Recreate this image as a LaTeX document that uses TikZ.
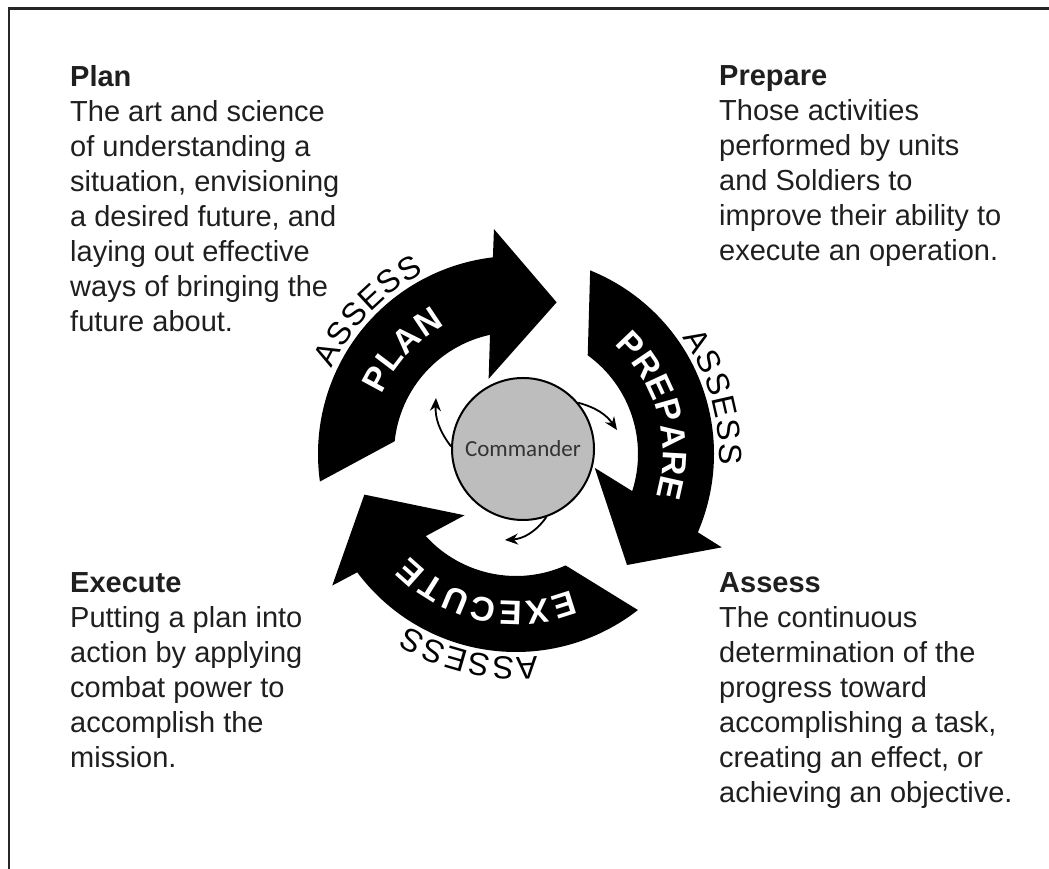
\documentclass[tikz,border=0pt]{standalone}
\usepackage{fontspec}
\setmainfont{Liberation Sans}
\newfontfamily\cmdfont{Carlito}
\usetikzlibrary{arrows.meta,decorations.text,positioning}
\newcommand\inlab{\fontsize{34}{34}\selectfont\bfseries}
\newcommand\outlab{\fontsize{32}{32}\selectfont}

\begin{document}
\begin{tikzpicture}[x=1pt,y=1pt,
  blurb/.style={anchor=north west,inner sep=0pt,align=left,text=black!88,
    font=\fontsize{29}{35}\selectfont},
  ringpart/.style={fill=black},
  turn/.style={-{Stealth[length=13pt,width=11pt]},line width=1.8pt},
  inlabel/.style={decorate,decoration={text along path,text={|\inlab|#1},
    text color=white,text align={fit to path}}},
  outlabel/.style={decorate,decoration={text along path,text={|\outlab|#1},
    text color=black,text align={fit to path}}}]
\useasboundingbox (0,0) rectangle (1049,869);

% frame, only top and left edge show
\draw[line width=3pt,black!85] (8,860.5) -- (1049,860.5);
\draw[line width=2.5pt,black!85] (9,862) -- (9,0);

% the four definitions
\node[blurb] (plan) at (70,804) {\textbf{Plan}\\The art and science\\of understanding a\\situation, envisioning\\a desired future, and\\laying out effective\\ways of bringing the\\future about.};
\node[blurb] (prepare) at (719,804) {\textbf{Prepare}\\Those activities\\performed by units\\and Soldiers to\\improve their ability to\\execute an operation.};
\node[blurb] (execute) at (70,297) {\textbf{Execute}\\Putting a plan into\\action by applying\\combat power to\\accomplish the\\mission.};
\node[blurb] (assess) at (719,297) {\textbf{Assess}\\The continuous\\determination of the\\progress toward\\accomplishing a task,\\creating an effect, or\\achieving an objective.};

% the ring of three arrows
\begin{scope}[shift={(516,415)}]
\fill[ringpart] (188:198) arc[start angle=188,end angle=96.7,radius=198] -- (95.6:226) -- (75:157) -- (110:80) -- (102.3:122) arc[start angle=102.3,end angle=174,radius=122] -- cycle;
\fill[ringpart] (68:198) arc[start angle=68,end angle=-23.3,radius=198] -- (-24.4:226) -- (-45:157) -- (-10:80) -- (-17.7:122) arc[start angle=-17.7,end angle=54,radius=122] -- cycle;
\fill[ringpart] (-52:198) arc[start angle=-52,end angle=-143.3,radius=198] -- (-144.4:226) -- (-165:157) -- (-130:80) -- (-137.7:122) arc[start angle=-137.7,end angle=-66,radius=122] -- cycle;

\path[inlabel=PLAN] (156:147) arc[start angle=156,end angle=119,radius=147];
\path[inlabel=PREPARE] (48:147) arc[start angle=48,end angle=-17,radius=147];
\path[inlabel=EXECUTE] (-68:147) arc[start angle=-68,end angle=-136,radius=147];

\path[outlabel=ASSESS] (155:203) arc[start angle=155,end angle=117,radius=203];
\path[outlabel=ASSESS] (35:203) arc[start angle=35,end angle=-3,radius=203];
\path[outlabel=ASSESS] (-84:203) arc[start angle=-84,end angle=-122,radius=203];
\end{scope}

% commander in the middle
\node[circle,draw,line width=2pt,fill=black!26,minimum size=142pt,inner sep=0pt,
  font=\cmdfont\fontsize{23}{23}\selectfont,text=black!80] (cmd) at (523,420) {Commander};

\coordinate (tipA) at (436,471);
\coordinate (tipB) at (617,439);
\coordinate (tipC) at (505,329);
\draw[turn] (cmd.178) to[bend left=20] (tipA);
\draw[turn] (cmd.40) to[bend left=20] (tipB);
\draw[turn] (cmd.-71) to[bend left=25] (tipC);
\end{tikzpicture}
\end{document}
